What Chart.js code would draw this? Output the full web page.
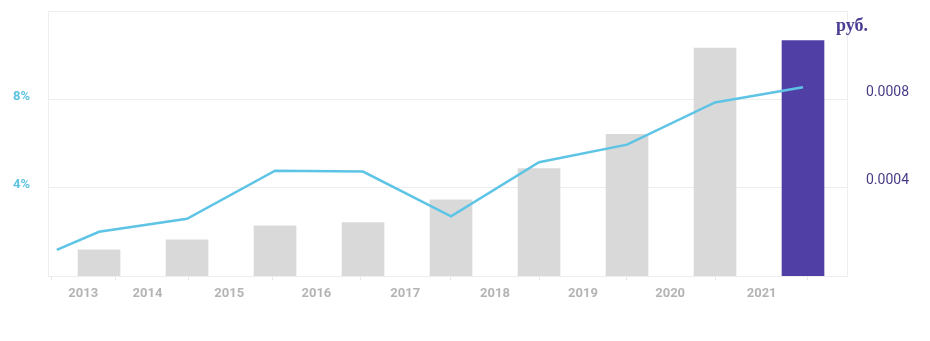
<!DOCTYPE html>
<html lang="ru">
<head>
<meta charset="utf-8">
<title>Доходность и дивиденд</title>
<script src="https://cdn.jsdelivr.net/npm/chart.js@4"></script>
<style>
  html, body { margin: 0; background: #fff; }
  #wrap { position: relative; width: 930px; height: 341px; }
</style>
</head>
<body>
<div id="wrap"><canvas id="chart"></canvas></div>
<script>
// --- данные графика ---------------------------------------------------------
// Столбец i стоит на x = i; подписи лет сдвинуты между столбцами, как в оригинале.
const years = ['2013', '2014', '2015', '2016', '2017', '2018', '2019', '2020', '2021'];
const yearTickPos = [-0.18, 0.55, 1.48, 2.47, 3.48, 4.5, 5.5, 6.49, 7.53];

const barPos = [0, 1, 2, 3, 4, 5, 6, 7, 8];
const barValues = [0.000118, 0.000164, 0.000227, 0.000242, 0.000345, 0.000486, 0.000641, 0.001032, 0.001066]; // руб.

const lineX = [-0.48, 0, 1, 2, 3, 4, 5, 6, 7, 8];
const lineValues = [1.18, 2.0, 2.59, 4.77, 4.73, 2.70, 5.15, 5.95, 7.86, 8.55]; // %

const leftTicks = [0, 4, 8, 12];
const rightTicks = [0.0004, 0.0008];
const unitText = 'руб.';

// --- оформление ---------------------------------------------------------------
const GREY_BAR = '#d9d9d9';
const PURPLE = '#5040a6';
const LINE = '#5ec4e6';
const GRID = '#eeeeee';
const FONT = 'Roboto, "Liberation Sans", sans-serif';

// Подпись единиц над правой осью.
const unitLabel = {
  id: 'unitLabel',
  afterDraw(chart) {
    const { ctx, chartArea } = chart;
    ctx.save();
    ctx.font = 'bold 18px "Liberation Serif", "DejaVu Serif", serif';
    ctx.fillStyle = '#4b3b93';
    ctx.textAlign = 'right';
    ctx.textBaseline = 'alphabetic';
    ctx.fillText(unitText, chartArea.right + 21, 31);
    ctx.restore();
  },
};

const fixedTicks = (values) => (scale) => {
  scale.ticks = values.map((v) => ({ value: v }));
};

// Фиксированная ширина оси без лишних отступов от подписей сверху/снизу.
const fixedWidth = (w) => (scale) => {
  scale.width = w;
  scale.paddingTop = 0;
  scale.paddingBottom = 0;
};

new Chart(document.getElementById('chart'), {
  type: 'bar',
  data: {
    datasets: [
      {
        type: 'line',
        data: lineX.map((x, i) => ({ x, y: lineValues[i] })),
        yAxisID: 'yL',
        borderColor: LINE,
        borderWidth: 2.5,
        pointRadius: 0,
        tension: 0,
        order: 0,
      },
      {
        type: 'bar',
        data: barPos.map((x, i) => ({ x, y: barValues[i] })),
        yAxisID: 'yR',
        backgroundColor: barPos.map((_, i) => (i === barPos.length - 1 ? PURPLE : GREY_BAR)),
        barThickness: 42,
        order: 1,
      },
    ],
  },
  options: {
    responsive: true,
    maintainAspectRatio: false,
    animation: false,
    layout: { padding: { top: 11, left: 0, right: 0, bottom: 0 } },
    plugins: { legend: { display: false }, tooltip: { enabled: false } },
    scales: {
      x: {
        type: 'linear',
        min: -0.58,
        max: 8.5,
        offset: false,
        afterBuildTicks: fixedTicks(yearTickPos),
        afterFit: (s) => { s.height = 65; s.paddingLeft = 0; s.paddingRight = 0; },
        grid: { display: true, drawOnChartArea: false, drawTicks: true, tickLength: 4, color: '#e6e6e6' },
        border: { display: true, color: GRID },
        ticks: {
          autoSkip: false,
          maxRotation: 0,
          padding: 6,
          color: '#b4b4b4',
          font: { family: FONT, size: 13, weight: 'bold' },
          callback: (v, i) => years[i],
        },
      },
      yL: {
        position: 'left',
        min: 0,
        max: 12,
        afterBuildTicks: fixedTicks(leftTicks),
        afterFit: fixedWidth(48),
        grid: { color: GRID, drawTicks: false },
        border: { display: true, color: GRID },
        ticks: {
          padding: 18,
          labelOffset: -3,
          color: '#5cc3e2',
          font: { family: FONT, size: 13, weight: 'bold' },
          callback: (v) => (v === 4 || v === 8 ? v + '%' : ''),
        },
      },
      yR: {
        position: 'right',
        min: 0,
        max: 0.0012,
        afterBuildTicks: fixedTicks(rightTicks),
        afterFit: fixedWidth(83),
        grid: { drawOnChartArea: false, drawTicks: false },
        border: { display: true, color: GRID },
        ticks: {
          padding: 19,
          labelOffset: -7,
          color: '#473b85',
          font: { family: FONT, size: 14 },
          callback: (v) => v.toFixed(4),
        },
      },
    },
  },
  plugins: [unitLabel],
});
</script>
</body>
</html>
